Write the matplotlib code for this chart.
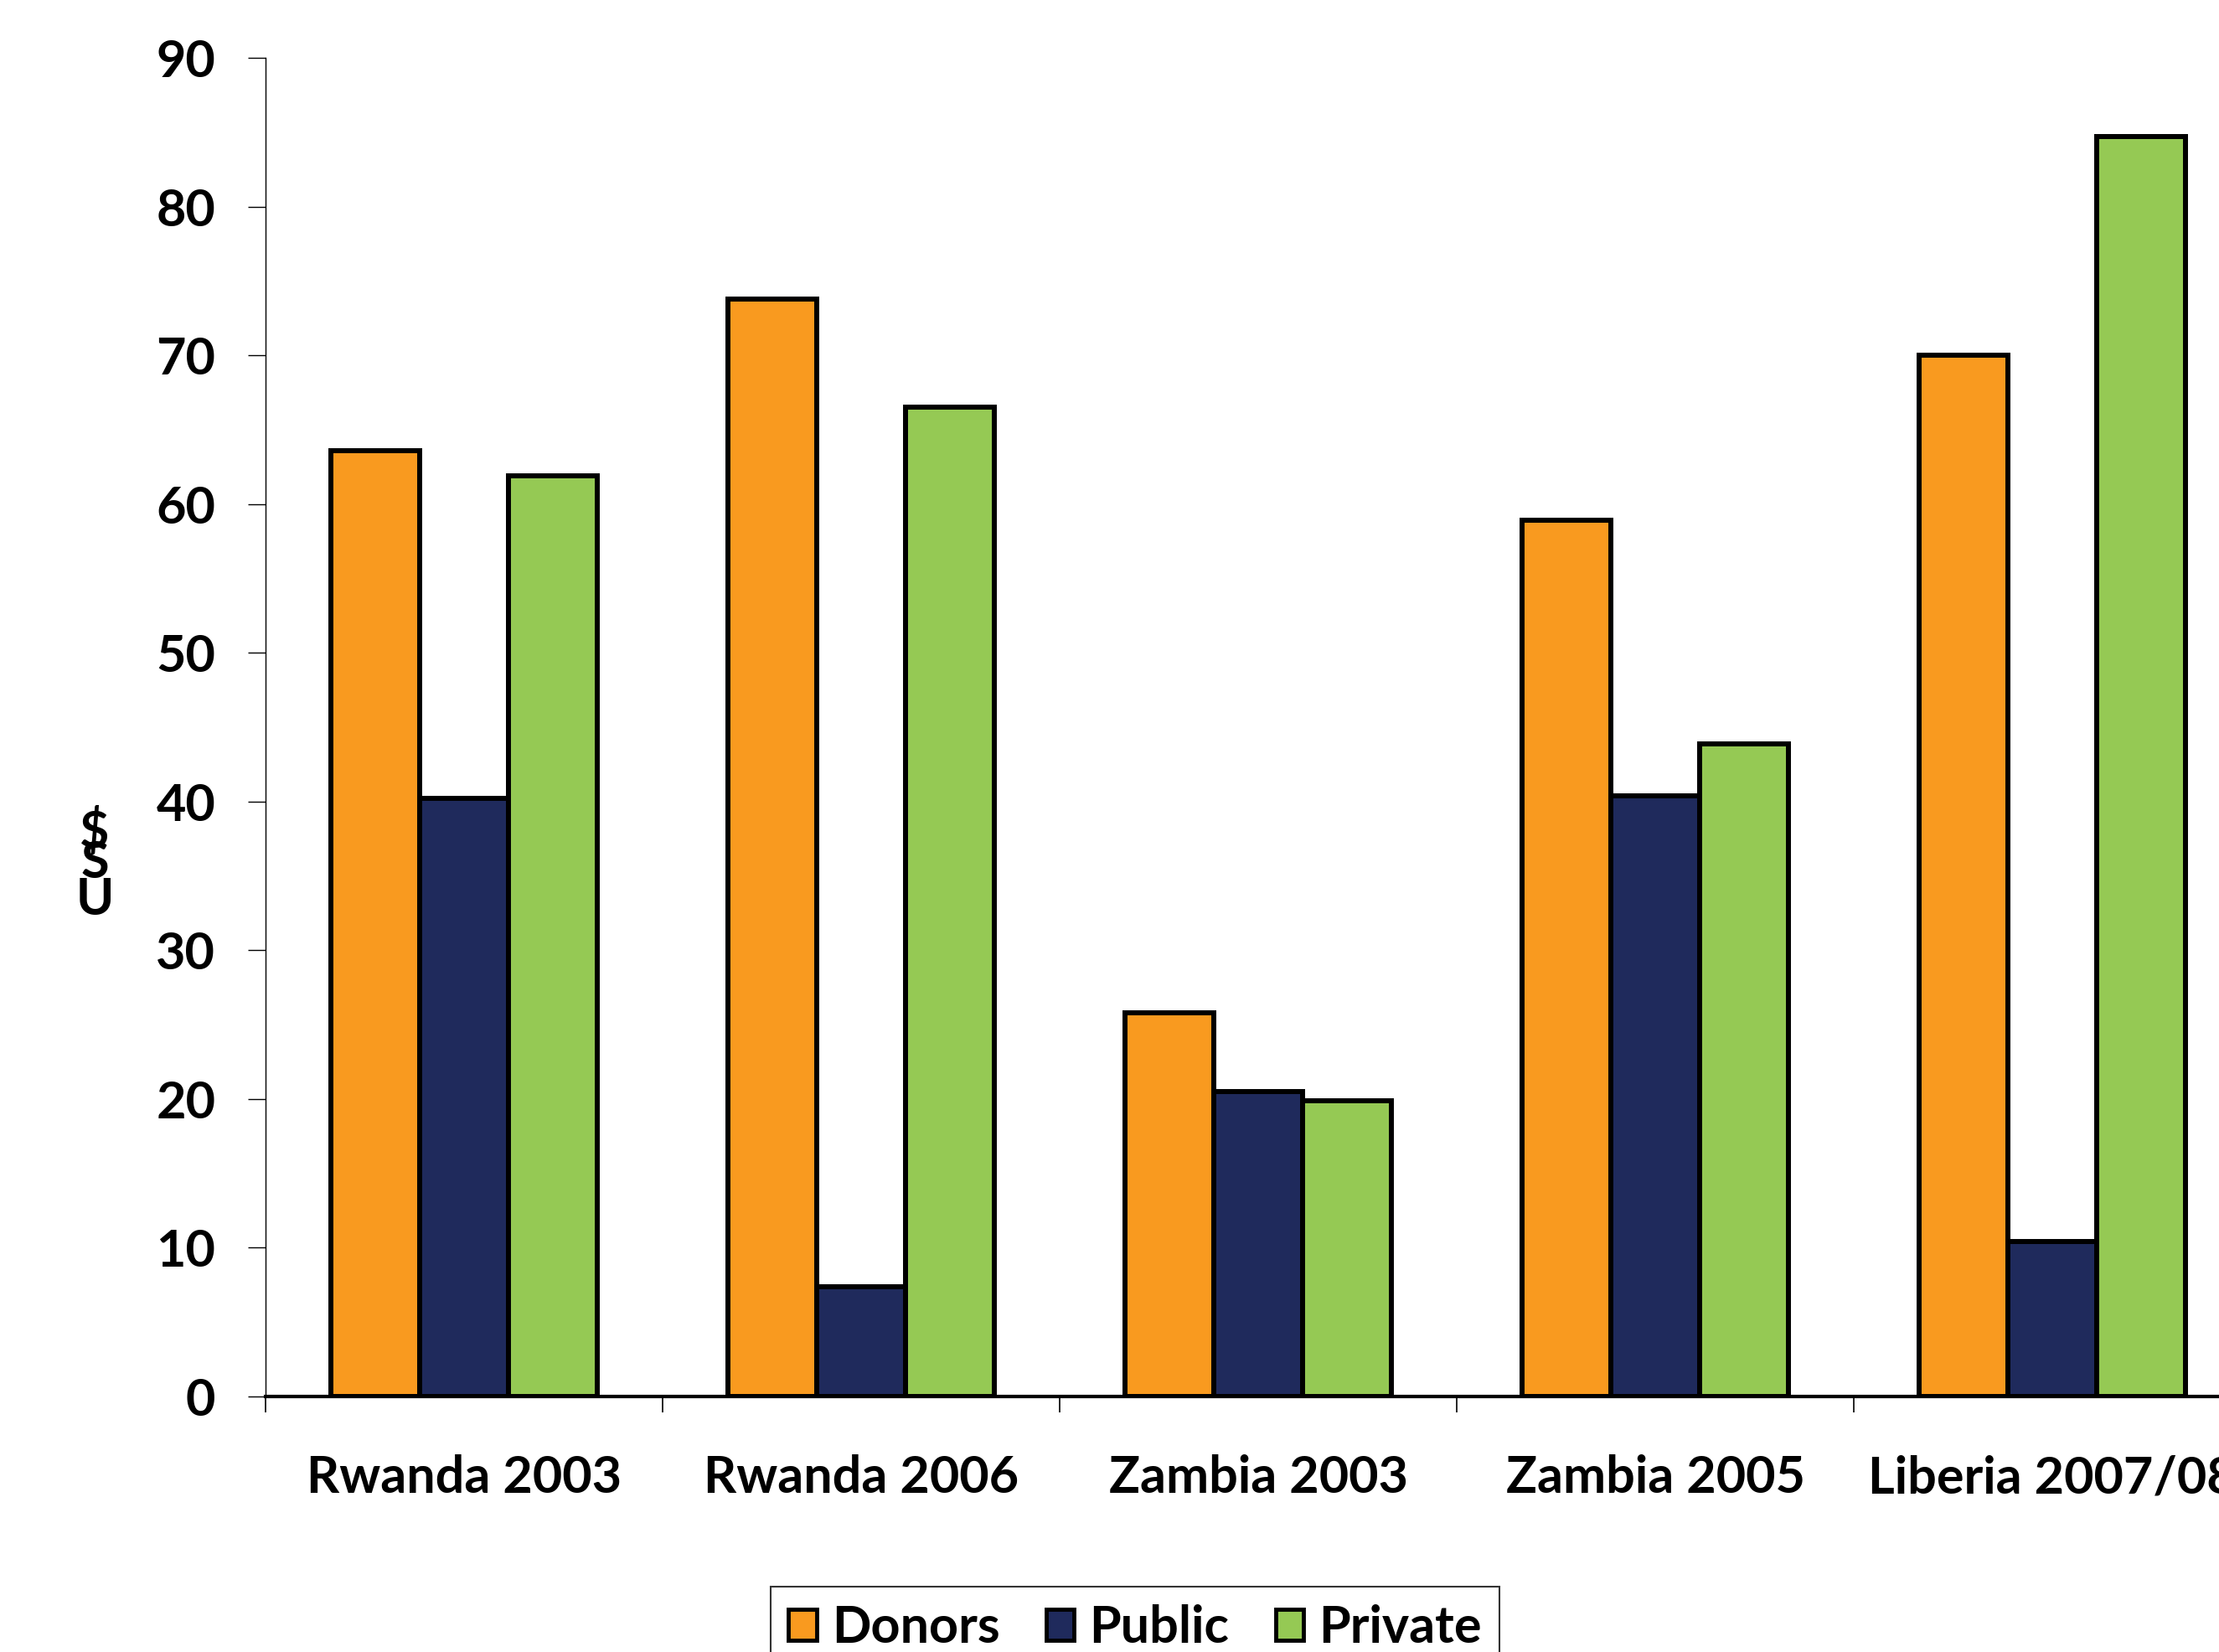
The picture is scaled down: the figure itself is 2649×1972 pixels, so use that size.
import numpy as np
import matplotlib.pyplot as plt
from matplotlib.patches import Patch

categories = ["Rwanda 2003", "Rwanda 2006", "Zambia 2003", "Zambia 2005", "Liberia 2007/08"]
donors = [63.6, 73.8, 25.8, 58.9, 70.0]
public = [40.2, 7.4, 20.5, 40.4, 10.4]
private = [61.9, 66.5, 19.9, 43.9, 84.7]
series = ["Donors", "Public", "Private"]
colors = ["#F99A1F", "#1F2A5C", "#95C954"]

plt.rcParams['font.family'] = ['Lato', 'DejaVu Sans']
fs = 44
wt = 'bold'

fig = plt.figure(figsize=(26.49, 19.72), dpi=100)
ax = fig.add_axes([0.11967, 0.15467, 0.8947, 0.81034])

x = np.arange(len(categories))
w = 0.224
for i, (vals, c) in enumerate(zip([donors, public, private], colors)):
    ax.bar(x + (i - 1) * w, vals, width=w, color=c, edgecolor="black", linewidth=4.3, zorder=3)

ax.set_xlim(-0.5, len(categories) - 0.5)
ax.set_ylim(0, 90)
ax.set_yticks(np.arange(0, 91, 10))
ax.set_xticks(x)
ax.set_xticklabels(categories)
ax.set_xticks(np.arange(-0.5, len(categories) - 0.5, 1), minor=True)

ax.spines['top'].set_visible(False)
ax.spines['right'].set_visible(False)
ax.spines['left'].set_linewidth(1.0)
ax.spines['bottom'].set_linewidth(3.0)
ax.spines['bottom'].set_zorder(4)

ax.tick_params(axis='y', direction='out', length=15, width=1.0, pad=28, labelsize=fs)
ax.tick_params(axis='x', which='major', length=0, pad=50, labelsize=fs)
ax.tick_params(axis='x', which='minor', direction='out', length=14, width=1.2)
for lab in ax.get_xticklabels() + ax.get_yticklabels():
    lab.set_fontweight(wt)

# stacked y label, as in the original
for ch, ypix in zip("US$", [1074, 1030, 992]):
    fig.text(113 / 2649, 1 - ypix / 1972, ch, fontsize=fs, ha='center', va='center',
             fontweight=wt, parse_math=False)

handles = [Patch(facecolor=c, edgecolor='black', linewidth=3.5) for c in colors]
leg = fig.legend(handles, series, loc='upper center', bbox_to_anchor=(0.5115, 1 - 1894 / 1972),
                 ncol=3, frameon=True, fancybox=False, edgecolor='black', borderaxespad=0,
                 handlelength=0.55, handleheight=0.55, handletextpad=0.3, columnspacing=0.9,
                 borderpad=0.35, prop={'weight': wt, 'size': fs})
leg.get_frame().set_linewidth(1.5)

fig.savefig("out.png", dpi=100)
